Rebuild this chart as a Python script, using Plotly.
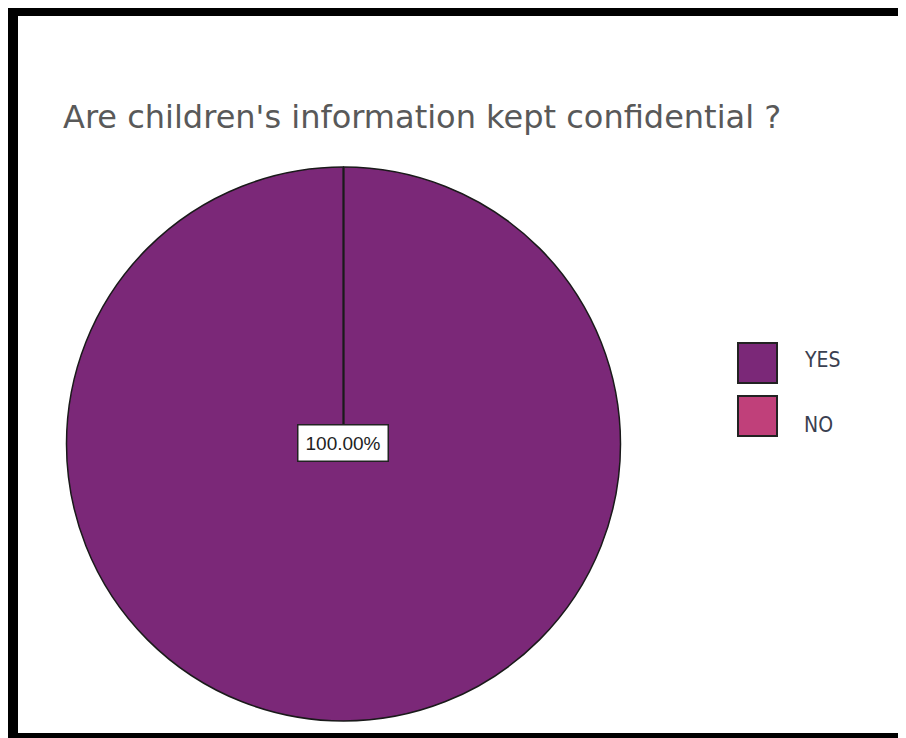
import plotly.graph_objects as go

title_text = "Are children's information kept confidential ?"
labels = ["YES", "NO"]
values = [100, 0]
colors = ["#7B2878", "#C0407A"]

# page has an 8px body margin; figure fills the rest of the 906x738 window
W, H = 898, 730
OFF = 8


def px(x):
    return (x - OFF) / W


def py(y):
    return 1 - (y - OFF) / H


total = sum(values)
pct_text = f"{values[0] / total * 100:.2f}%"

fig = go.Figure()
fig.add_trace(go.Pie(
    labels=labels, values=values, sort=False, direction="clockwise", rotation=0,
    marker=dict(colors=colors, line=dict(color="#1a1a1a", width=1.5)),
    textinfo="none", hoverinfo="label+percent", showlegend=False,
    domain=dict(x=[px(66), px(621)], y=[py(721), py(167)]),
))

cx = px((66 + 621) / 2)
cy = py((167 + 721) / 2)
shapes = [
    dict(type="line", xref="paper", yref="paper", x0=cx, y0=cy, x1=cx, y1=py(168),
         line=dict(color="#1a1a1a", width=2)),
    dict(type="rect", xref="paper", yref="paper", x0=px(13), y0=py(738), x1=1.05, y1=py(11),
         line=dict(color="black", width=10), fillcolor="rgba(0,0,0,0)"),
    dict(type="line", xref="paper", yref="paper", x0=px(905), y0=py(16), x1=px(905), y1=py(733),
         line=dict(color="#9a9a9a", width=1.5)),
]
annotations = [
    dict(text=title_text, xref="paper", yref="paper", x=px(61), y=py(117), xanchor="left",
         yanchor="middle", showarrow=False,
         font=dict(family="DejaVu Sans, sans-serif", size=32, color="#595959")),
    dict(text=pct_text, xref="paper", yref="paper", x=px(343), y=py(443), xanchor="center", yanchor="middle",
         showarrow=False, bgcolor="white", bordercolor="#222222", borderwidth=1.5, borderpad=7,
         font=dict(family="Liberation Sans, Arial, sans-serif", size=19, color="#222222")),
]
leg_y = [363, 416]
txt_y = [360, 425]
for lab, col, yy, ty in zip(labels, colors, leg_y, txt_y):
    shapes.append(dict(type="rect", xref="paper", yref="paper", x0=px(738), x1=px(777),
                       y0=py(yy + 20), y1=py(yy - 20),
                       fillcolor=col, line=dict(color="#222222", width=2)))
    annotations.append(dict(text=lab, xref="paper", yref="paper", x=px(802), y=py(ty),
                            xanchor="left", yanchor="middle", showarrow=False,
                            font=dict(family="DejaVu Sans Condensed, Liberation Sans Narrow, sans-serif",
                                      size=21, color="#3a4050")))

fig.update_layout(width=W, height=H, margin=dict(l=0, r=0, t=0, b=0),
                  paper_bgcolor="white", plot_bgcolor="white",
                  shapes=shapes, annotations=annotations, showlegend=False)
fig.write_html("out.html")
